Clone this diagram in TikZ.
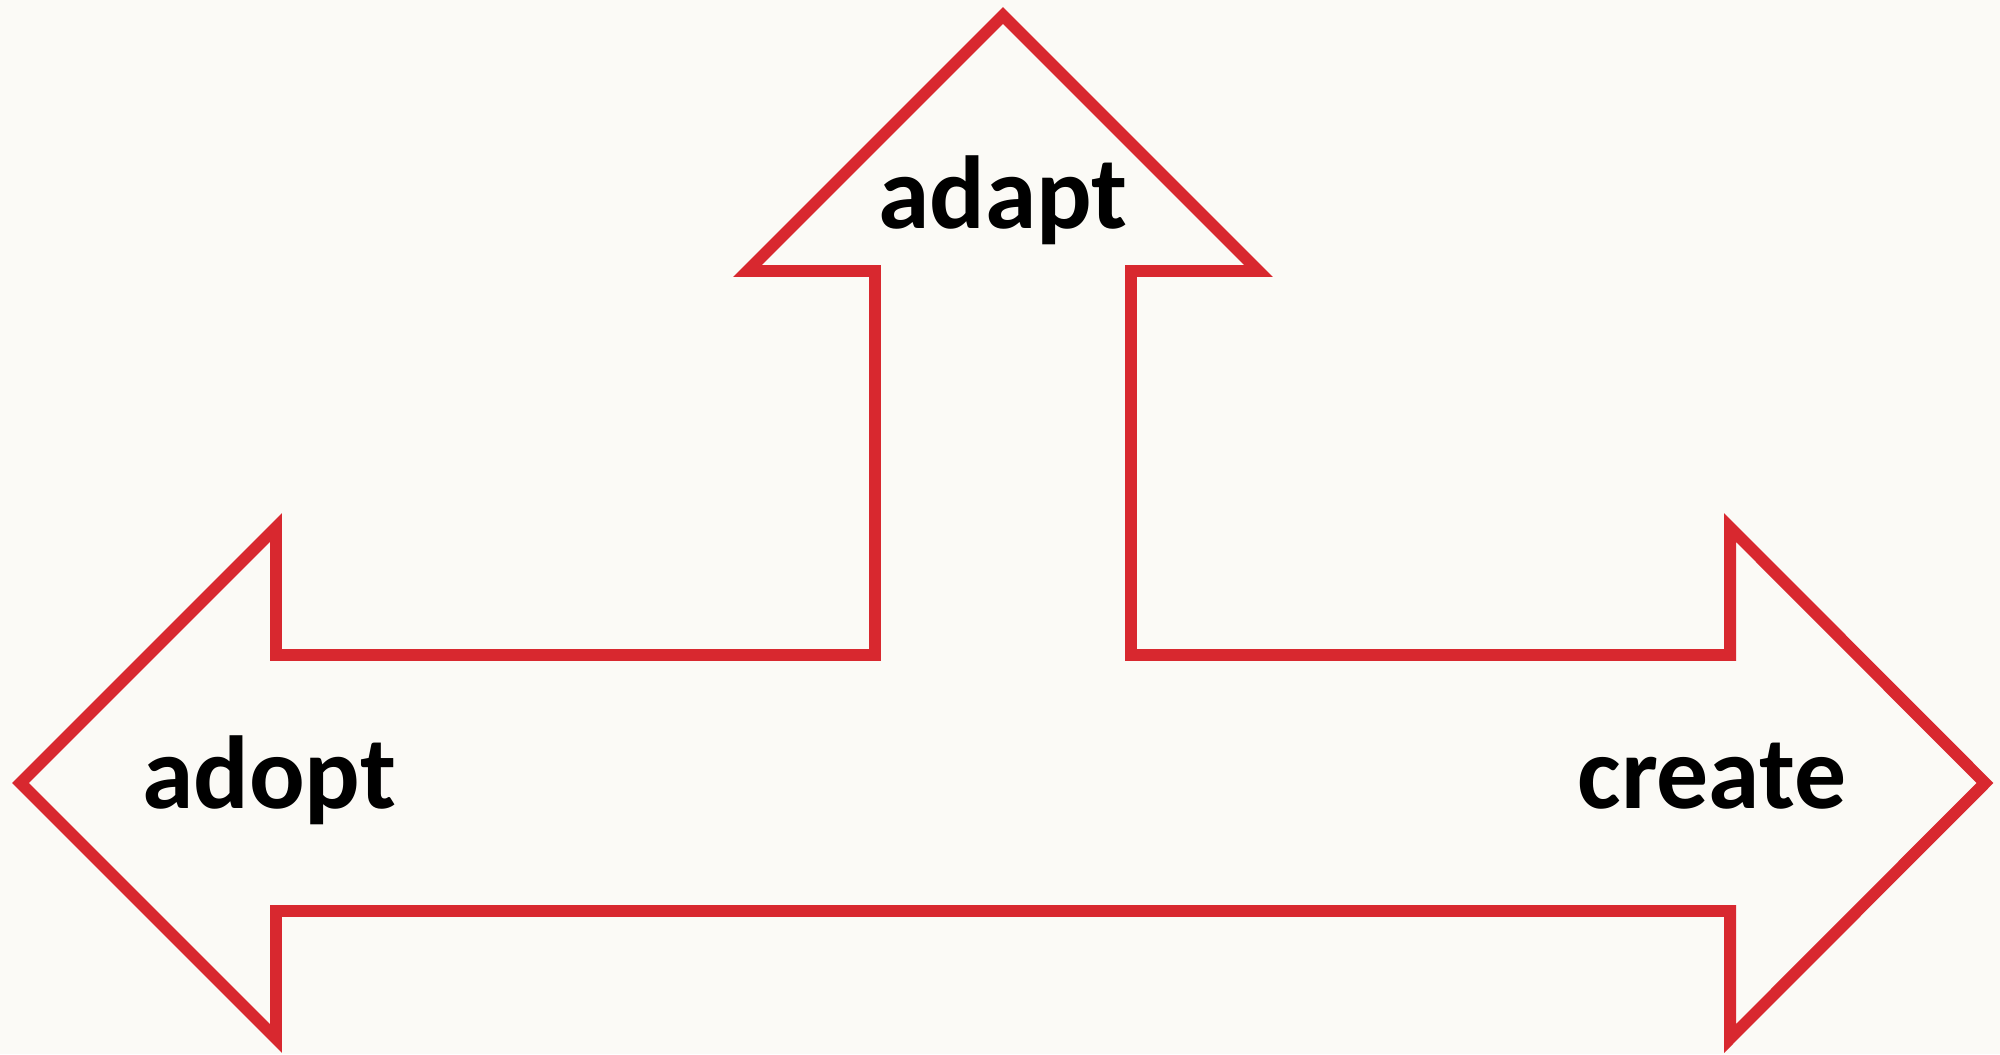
\documentclass[tikz,border=0pt]{standalone}
\usepackage{fontspec}
\setmainfont{Carlito}
\usepackage{xcolor}
\definecolor{cBg}{HTML}{FBFAF6}
\definecolor{cArrow}{HTML}{D8282F}
\usepackage{tikz}

\begin{document}
\begin{tikzpicture}[
    x=0.01cm, y=-0.01cm,
    word/.style    = {font=\fontsize{29.5}{35}\selectfont\bfseries,
                      anchor=base, inner sep=0pt},
    outline/.style = {draw=cArrow, line width=3.4pt, line join=miter}
]
% --- Plocha ------------------------------------------------------------
\fill[cBg] (0,0) rectangle (2000,1054);
\useasboundingbox (0,0) rectangle (2000,1054);

% --- Souradnice: svisly dřík, ramena, hroty ------------------------------
\def\xMid{1003}
\def\yHead{271}
\def\yArmT{655}
\def\yArmB{911}

% --- Trojita sipka (jeden obrys) ---------------------------------------
\draw[outline]
    (\xMid,15.5) -- (1258.5,\yHead) -- (1131,\yHead) -- (1131,\yArmT)
    -- (1730,\yArmT) -- (1730,527.5) -- (1985,783) -- (1730,1038.5)
    -- (1730,\yArmB) -- (276,\yArmB) -- (276,1038.5) -- (20.5,783)
    -- (276,527.5) -- (276,\yArmT) -- (875,\yArmT) -- (875,\yHead)
    -- (747.5,\yHead) -- cycle;

% --- Popisky ---------------------------------------------------------------
\node[word] (adapt)  at (\xMid,228) {adapt};
\node[word] (adopt)  at (269,808)   {adopt};
\node[word] (create) at (1712,808)  {create};
\end{tikzpicture}
\end{document}
